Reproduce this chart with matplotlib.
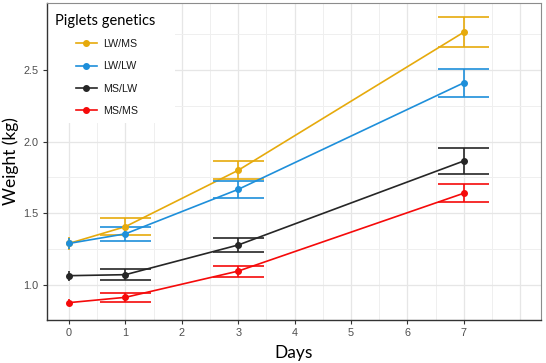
import matplotlib
matplotlib.use("Agg")
import matplotlib.pyplot as plt
from matplotlib.lines import Line2D
from matplotlib.patches import Rectangle
import numpy as np

# Data
days = [0, 1, 3, 7]
genetics = ["LW/MS", "LW/LW", "MS/LW", "MS/MS"]
colors = ["#E6AA0C", "#1E8FDA", "#262626", "#F50A0A"]

weight_lwms = [1.29, 1.407, 1.80, 2.763]
weight_lwlw = [1.29, 1.357, 1.667, 2.41]
weight_mslw = [1.065, 1.072, 1.279, 1.865]
weight_msms = [0.877, 0.914, 1.097, 1.640]

err_lwms = [0.045, 0.058, 0.063, 0.106]
err_lwlw = [0.040, 0.047, 0.057, 0.096]
err_mslw = [0.035, 0.040, 0.052, 0.088]
err_msms = [0.022, 0.031, 0.039, 0.062]

means = [weight_lwms, weight_lwlw, weight_mslw, weight_msms]
errs = [err_lwms, err_lwlw, err_mslw, err_msms]

fig = plt.figure(figsize=(5.46, 3.63), dpi=100)
ax = fig.add_axes([0.0861, 0.1185, 0.9048, 0.8733])

# grid like ggplot theme_bw
ax.set_xticks(np.arange(0, 8.01, 1))
ax.set_xticks(np.arange(-0.5, 8.51, 0.5), minor=True)
ax.set_yticks([1.0, 1.5, 2.0, 2.5])
ax.set_yticks(np.arange(0.75, 3.01, 0.25), minor=True)
ax.grid(which="major", color="#E6E6E6", lw=0.9, zorder=0)
ax.grid(which="minor", color="#EFEFEF", lw=0.7, zorder=0)
ax.set_yticklabels(["1.0", "1.5", "2.0", "2.5"])
ax.set_xticklabels([str(d) for d in range(8)] + [""])
ax.tick_params(which="minor", length=0)
ax.tick_params(which="major", length=3, color="#333333", labelsize=7.8,
               labelcolor="#4D4D4D", pad=3)
for lab in ax.get_xticklabels() + ax.get_yticklabels():
    lab.set_family("Liberation Sans")
for t in ax.get_xticklines()[-2:]:
    t.set_visible(False)

half = 0.45
for m, e, c in zip(means, errs, colors):
    ax.plot(days, m, color=c, lw=1.2, zorder=3)
    lo = np.array(m) - np.array(e)
    hi = np.array(m) + np.array(e)
    ax.vlines(days, lo, hi, color=c, lw=1.2, zorder=3)
    ax.hlines(lo[1:], np.array(days[1:]) - half, np.array(days[1:]) + half,
              color=c, lw=1.2, zorder=3)
    ax.hlines(hi[1:], np.array(days[1:]) - half, np.array(days[1:]) + half,
              color=c, lw=1.2, zorder=3)
    ax.plot(days, m, "o", color=c, ms=4, zorder=4)

ax.set_xlim(-0.39, 8.37)
ax.set_ylim(0.756, 2.967)

for s in ["left", "bottom"]:
    ax.spines[s].set_color("#333333")
    ax.spines[s].set_linewidth(1.0)
for s in ["top", "right"]:
    ax.spines[s].set_color("#8C8C8C")
    ax.spines[s].set_linewidth(0.8)

ax.set_xlabel("Days", family="Lato", fontsize=12.5, labelpad=5)
ax.set_ylabel("Weight (kg)", family="Lato", fontsize=12.5)
ax.yaxis.set_label_coords(-0.057, 0.5)

# legend block: white background, title, indented keys
ax.add_patch(Rectangle((0.0, 0.62), 0.26, 0.38, transform=ax.transAxes,
                       facecolor="white", edgecolor="none", zorder=2))
ax.text(0.0162, 0.9306, "Piglets genetics", transform=ax.transAxes,
        family="Lato", fontsize=10.5, va="baseline", ha="left", zorder=6)
handles = [Line2D([0], [0], color=c, lw=1.2, marker="o", ms=4) for c in colors]
leg = ax.legend(handles, genetics, loc="upper left",
                bbox_to_anchor=(0.058, 0.886), frameon=False,
                prop={"family": "Liberation Sans", "size": 7.7},
                handlelength=2.0, labelspacing=1.15, borderpad=0.0,
                handletextpad=0.55, borderaxespad=0.0)
leg.set_zorder(5)
for t in leg.get_texts():
    t.set_color("#1A1A1A")

fig.savefig("out.png", dpi=100)
